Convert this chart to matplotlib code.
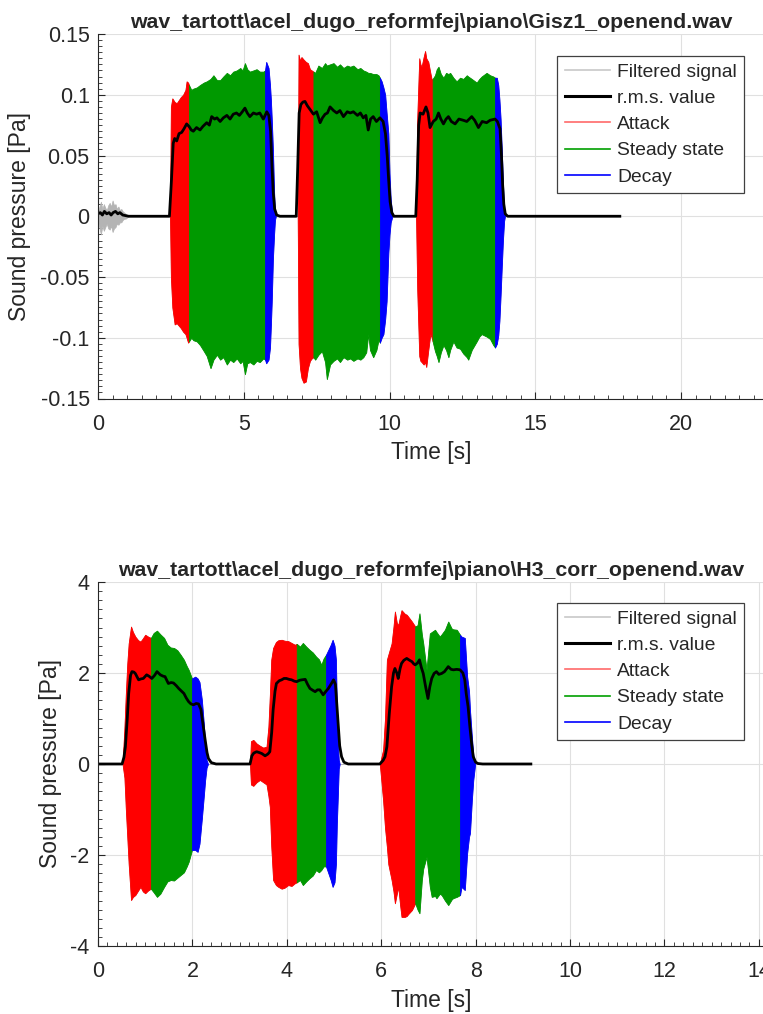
import numpy as np
import matplotlib.pyplot as plt
from matplotlib.lines import Line2D
from matplotlib.ticker import MultipleLocator

plt.rcParams['font.family'] = ['Liberation Sans', 'DejaVu Sans']
plt.rcParams['axes.unicode_minus'] = False
plt.rcParams['text.color'] = '#262626'
plt.rcParams['axes.labelcolor'] = '#262626'
plt.rcParams['xtick.color'] = '#262626'
plt.rcParams['ytick.color'] = '#262626'

# ---------------------------------------------------------------
# Gisz1_openend.wav : envelope of the filtered signal (upper / lower)
# ---------------------------------------------------------------
gisz_t = [0.0, 0.05, 0.1, 0.15, 0.2, 0.25, 0.3, 0.35, 0.4, 0.45, 0.5, 0.55, 0.6, 0.65,
          0.7, 0.75, 0.8, 0.85, 0.9, 0.95, 1.0, 1.05,
          2.47, 2.50, 2.55, 2.63, 2.70, 2.84, 2.92, 3.00, 3.04, 3.09, 3.12,
          3.20, 3.27, 3.39, 3.50, 3.63, 3.73, 3.86, 3.96, 4.08, 4.19, 4.30, 4.42, 4.53,
          4.64, 4.76, 4.88, 4.96, 5.04, 5.12, 5.21, 5.33, 5.44, 5.55, 5.67, 5.73,
          5.77, 5.85, 5.90, 5.93, 5.96, 6.00, 6.04, 6.07, 6.10,
          6.85, 6.88, 6.93, 6.98, 7.05, 7.13, 7.20, 7.27, 7.33, 7.39,
          7.45, 7.56, 7.68, 7.79, 7.85, 7.96, 8.08, 8.20, 8.30, 8.42, 8.55, 8.65, 8.76,
          8.90, 9.00, 9.10, 9.20, 9.27, 9.33, 9.44, 9.55, 9.62, 9.67,
          9.73, 9.79, 9.85, 9.90, 9.96, 10.00, 10.04, 10.10,
          10.91, 10.95, 11.02, 11.06, 11.10, 11.17, 11.22, 11.26, 11.33, 11.40, 11.45, 11.48,
          11.56, 11.62, 11.68, 11.76, 11.85, 11.94, 12.02, 12.08, 12.19, 12.30, 12.42,
          12.53, 12.65, 12.70, 12.82, 12.99, 13.08, 13.16, 13.33, 13.45, 13.56, 13.62,
          13.68, 13.73, 13.77, 13.81, 13.85, 13.89, 13.93, 13.96]
gisz_upper = [0.003, 0.008, 0.012, 0.006, 0.010, 0.007, 0.005, 0.009, 0.011, 0.008, 0.013, 0.009,
              0.010, 0.006, 0.008, 0.005, 0.006, 0.004, 0.003, 0.002, 0.001, 0.0,
              0.0, 0.090, 0.097, 0.094, 0.093, 0.098, 0.100, 0.104, 0.111, 0.110, 0.108,
              0.104, 0.105, 0.106, 0.108, 0.110, 0.111, 0.113, 0.116, 0.112, 0.112, 0.115, 0.118,
              0.116, 0.119, 0.120, 0.122, 0.120, 0.126, 0.121, 0.119, 0.120, 0.121, 0.119, 0.119,
              0.120, 0.127, 0.122, 0.108, 0.096, 0.080, 0.055, 0.020, 0.003, 0.0,
              0.0, 0.133, 0.128, 0.131, 0.129, 0.127, 0.126, 0.121, 0.120, 0.119,
              0.118, 0.124, 0.122, 0.126, 0.124, 0.125, 0.126, 0.123, 0.125, 0.122, 0.124, 0.123,
              0.124, 0.121, 0.122, 0.120, 0.119, 0.118, 0.118, 0.117, 0.117, 0.116, 0.114,
              0.111, 0.106, 0.100, 0.085, 0.068, 0.035, 0.014, 0.0,
              0.0, 0.080, 0.130, 0.125, 0.123, 0.131, 0.136, 0.130, 0.127, 0.118, 0.112, 0.113,
              0.116, 0.121, 0.123, 0.117, 0.114, 0.118, 0.117, 0.118, 0.114, 0.111, 0.114,
              0.113, 0.116, 0.115, 0.113, 0.110, 0.113, 0.115, 0.118, 0.116, 0.115, 0.114,
              0.114, 0.108, 0.096, 0.080, 0.055, 0.028, 0.005, 0.0]
gisz_lower = [-0.004, -0.010, -0.015, -0.008, -0.012, -0.009, -0.006, -0.010, -0.011, -0.008,
              -0.013, -0.010, -0.009, -0.006, -0.007, -0.005, -0.005, -0.003, -0.002, -0.002,
              -0.001, 0.0,
              0.0, -0.050, -0.075, -0.089, -0.088, -0.092, -0.095, -0.097, -0.100, -0.104, -0.103,
              -0.100, -0.102, -0.103, -0.106, -0.111, -0.115, -0.125, -0.118, -0.114, -0.118,
              -0.116, -0.122, -0.118, -0.120, -0.117, -0.121, -0.119, -0.130, -0.121, -0.120,
              -0.122, -0.119, -0.120, -0.117, -0.118,
              -0.121, -0.118, -0.108, -0.090, -0.070, -0.035, -0.015, -0.003, 0.0,
              0.0, -0.105, -0.125, -0.133, -0.137, -0.136, -0.125, -0.119, -0.117, -0.116,
              -0.118, -0.114, -0.111, -0.120, -0.134, -0.122, -0.119, -0.117, -0.120, -0.116,
              -0.118, -0.117, -0.119, -0.117, -0.118, -0.116, -0.112, -0.097, -0.110, -0.116,
              -0.110, -0.102, -0.104,
              -0.100, -0.097, -0.085, -0.070, -0.030, -0.015, -0.005, 0.0,
              0.0, -0.060, -0.115, -0.119, -0.120, -0.122, -0.120, -0.124, -0.110, -0.097,
              -0.100, -0.103,
              -0.111, -0.115, -0.120, -0.112, -0.106, -0.110, -0.116, -0.110, -0.103, -0.108,
              -0.109, -0.113, -0.116, -0.118, -0.110, -0.103, -0.099, -0.097, -0.099, -0.101,
              -0.106, -0.108,
              -0.105, -0.098, -0.086, -0.065, -0.042, -0.020, -0.004, 0.0]
gisz_attack_start = [2.47, 6.85, 10.91]
gisz_steady_start = [3.12, 7.39, 11.48]
gisz_decay_start = [5.73, 9.67, 13.62]
gisz_decay_end = [6.10, 10.10, 13.96]

gisz_rms_t = [0.0, 0.08, 0.15, 0.22, 0.3, 0.38, 0.45, 0.52, 0.6, 0.68, 0.75, 0.85, 0.95, 1.05,
              2.45, 2.52, 2.58, 2.63, 2.70, 2.78, 2.87, 2.95, 3.04, 3.12, 3.20, 3.27, 3.38,
              3.50, 3.60, 3.73, 3.82, 3.90, 4.0, 4.08, 4.19, 4.30, 4.42, 4.53, 4.64, 4.75,
              4.85, 4.95, 5.04, 5.12, 5.21, 5.33, 5.44, 5.55, 5.67, 5.79, 5.86, 5.92, 5.97,
              6.01, 6.06, 6.13, 6.24,
              6.80, 6.85, 6.90, 6.96, 7.03, 7.10, 7.18, 7.27, 7.39, 7.50, 7.62, 7.70, 7.79,
              7.87, 7.96, 8.08, 8.19, 8.30, 8.42, 8.55, 8.65, 8.76, 8.90, 9.00, 9.10, 9.19,
              9.27, 9.35, 9.44, 9.55, 9.67, 9.78, 9.86, 9.92, 9.97, 10.02, 10.08, 10.15,
              10.90, 10.95, 11.00, 11.05, 11.15, 11.25, 11.32, 11.39, 11.50, 11.60, 11.68,
              11.76, 11.85, 11.94, 12.02, 12.12, 12.25, 12.38, 12.53, 12.65, 12.82, 12.92,
              13.05, 13.18, 13.33, 13.45, 13.62, 13.70, 13.79, 13.84, 13.88, 13.92, 13.97,
              14.05, 14.25, 17.9]
gisz_rms = [0.002, 0.003, 0.001, 0.004, 0.002, 0.003, 0.001, 0.003, 0.004, 0.002, 0.003,
            0.001, 0.0005, 0.0,
            0.0, 0.030, 0.060, 0.064, 0.062, 0.068, 0.069, 0.072, 0.076, 0.074, 0.071, 0.070,
            0.073, 0.071, 0.074, 0.077, 0.075, 0.082, 0.080, 0.081, 0.078, 0.081, 0.083,
            0.080, 0.084, 0.085, 0.083, 0.086, 0.089, 0.085, 0.082, 0.085, 0.084, 0.085,
            0.080, 0.086, 0.083, 0.070, 0.040, 0.020, 0.006, 0.001, 0.0,
            0.0, 0.040, 0.085, 0.092, 0.094, 0.0945, 0.091, 0.088, 0.084, 0.086, 0.077,
            0.081, 0.084, 0.085, 0.090, 0.087, 0.085, 0.087, 0.082, 0.086, 0.085, 0.086,
            0.083, 0.085, 0.081, 0.083, 0.071, 0.080, 0.082, 0.078, 0.081, 0.078, 0.068,
            0.050, 0.030, 0.012, 0.003, 0.0,
            0.0, 0.030, 0.075, 0.085, 0.084, 0.090, 0.085, 0.073, 0.078, 0.080, 0.085,
            0.080, 0.076, 0.080, 0.082, 0.078, 0.076, 0.080, 0.079, 0.078, 0.082, 0.079,
            0.073, 0.078, 0.077, 0.079, 0.080, 0.078, 0.072, 0.050, 0.026, 0.010, 0.002,
            0.0, 0.0, 0.0]

# ---------------------------------------------------------------
# H3_corr_openend.wav
# ---------------------------------------------------------------
h3_t = [0.0, 0.52, 0.56, 0.59, 0.62, 0.65, 0.70, 0.74, 0.79, 0.85, 0.90, 0.95, 1.00, 1.06, 1.12,
        1.18, 1.25, 1.32, 1.40, 1.47, 1.54, 1.61, 1.68, 1.75, 1.82, 1.88, 1.92, 1.99,
        2.06, 2.11, 2.15, 2.20, 2.24, 2.27, 2.30, 2.33,
        3.22, 3.24, 3.29, 3.36, 3.43, 3.50, 3.57, 3.61, 3.64, 3.67, 3.71, 3.77, 3.82, 3.89,
        3.95, 4.03, 4.10, 4.17, 4.21,
        4.28, 4.34, 4.41, 4.48, 4.55, 4.62, 4.68, 4.73, 4.78, 4.83,
        4.88, 4.93, 4.97, 5.01, 5.04, 5.06, 5.08, 5.10, 5.12,
        5.97, 6.04, 6.08, 6.12, 6.15, 6.22, 6.26, 6.29, 6.33, 6.36, 6.40, 6.43, 6.50, 6.54,
        6.57, 6.65, 6.72,
        6.77, 6.81, 6.86, 6.89, 6.96, 7.03, 7.07, 7.14, 7.17, 7.24, 7.28, 7.35, 7.42, 7.49,
        7.52, 7.60, 7.67,
        7.70, 7.77, 7.82, 7.86, 7.88, 7.92, 7.95, 7.99, 9.17]
h3_upper = [0.0, 0.0, 0.8, 1.55, 2.2, 2.65, 3.02, 2.90, 2.80, 2.72, 2.69, 2.76, 2.84, 2.80, 2.77,
            2.88, 2.93, 2.85, 2.77, 2.62, 2.56, 2.55, 2.50, 2.40, 2.29, 2.15, 2.07, 1.88,
            1.92, 1.88, 1.80, 1.41, 0.90, 0.45, 0.09, 0.0,
            0.0, 0.50, 0.53, 0.45, 0.40, 0.36, 0.38, 0.82, 1.50, 2.29, 2.55, 2.68, 2.72, 2.73,
            2.71, 2.70, 2.66, 2.62, 2.64,
            2.58, 2.66, 2.58, 2.51, 2.45, 2.36, 2.30, 2.18, 2.32, 2.40,
            2.51, 2.62, 2.73, 2.60, 2.29, 1.20, 0.50, 0.09, 0.0,
            0.0, 0.31, 1.0, 2.29, 2.40, 2.65, 3.02, 3.35, 3.10, 3.05, 3.25, 3.38, 3.30, 3.28,
            3.24, 3.13, 3.02,
            3.05, 3.31, 2.85, 2.65, 2.07, 2.87, 2.90, 2.95, 2.90, 2.80, 2.85, 2.95, 3.13, 2.98,
            2.96, 2.95, 2.84,
            2.80, 2.77, 1.92, 1.60, 1.19, 0.60, 0.20, 0.0, 0.0]
h3_lower = [0.0, 0.0, -0.3, -1.0, -1.6, -2.2, -2.99, -2.92, -2.88, -2.78, -2.70, -2.80, -2.84,
            -2.78, -2.74,
            -2.82, -2.92, -2.85, -2.70, -2.58, -2.55, -2.56, -2.50, -2.44, -2.38, -2.25, -2.15,
            -1.89,
            -1.89, -1.93, -1.75, -1.20, -0.72, -0.35, -0.08, 0.0,
            0.0, -0.45, -0.48, -0.40, -0.35, -0.40, -0.45, -0.70, -0.94, -1.80, -2.55, -2.66,
            -2.70, -2.74, -2.72, -2.66, -2.68, -2.62, -2.60,
            -2.55, -2.66, -2.58, -2.51, -2.45, -2.33, -2.38, -2.33, -2.25, -2.25,
            -2.40, -2.55, -2.70, -2.60, -2.20, -1.30, -0.72, -0.10, 0.0,
            0.0, -0.80, -1.40, -1.82, -2.20, -2.55, -2.80, -3.06, -2.85, -2.70, -3.10, -3.36,
            -3.36, -3.34, -3.30, -3.21, -3.06,
            -3.20, -3.28, -2.55, -2.30, -2.04, -2.70, -2.92, -2.90, -2.95, -2.85, -2.88, -3.00,
            -3.10, -2.98, -2.95, -2.92, -2.88,
            -2.70, -2.77, -1.96, -1.60, -1.52, -0.79, -0.35, 0.0, 0.0]
h3_attack_start = [0.52, 3.22, 5.97]
h3_steady_start = [1.12, 4.21, 6.72]
h3_decay_start = [1.99, 4.83, 7.67]
h3_decay_end = [2.33, 5.12, 7.99]

h3_rms_t = [0.0, 0.51, 0.55, 0.58, 0.62, 0.65, 0.69, 0.72, 0.76, 0.79, 0.86, 0.91, 0.96, 1.03,
            1.08, 1.14, 1.20, 1.25, 1.32, 1.38, 1.42, 1.49, 1.55, 1.60, 1.66, 1.71, 1.77,
            1.82, 1.87, 1.92, 1.97, 2.02, 2.08, 2.13, 2.18, 2.22, 2.27, 2.31, 2.34, 2.40, 2.50,
            3.22, 3.26, 3.30, 3.36, 3.42, 3.47, 3.54, 3.60, 3.64, 3.68, 3.71, 3.75, 3.78,
            3.84, 3.89, 3.94, 3.99, 4.05, 4.10, 4.16, 4.21, 4.27, 4.32, 4.39, 4.44, 4.49,
            4.55, 4.60, 4.65, 4.70, 4.77, 4.83, 4.88, 4.94, 4.99, 5.03, 5.06, 5.09, 5.12,
            5.16, 5.21, 5.30,
            5.97, 6.04, 6.08, 6.12, 6.17, 6.22, 6.26, 6.29, 6.33, 6.36, 6.40, 6.43, 6.48,
            6.54, 6.60, 6.65, 6.69, 6.72, 6.77, 6.81, 6.85, 6.89, 6.94, 6.99, 7.03, 7.07,
            7.12, 7.17, 7.22, 7.28, 7.34, 7.42, 7.48, 7.53, 7.60, 7.67, 7.73, 7.77, 7.80,
            7.84, 7.88, 7.92, 7.95, 8.00, 8.05, 8.15, 9.17]
h3_rms = [0.0, 0.0, 0.15, 0.38, 1.0, 1.55, 1.95, 2.03, 2.02, 1.99, 1.85, 1.87, 1.88, 1.96,
          1.93, 1.88, 1.95, 2.03, 1.96, 1.93, 1.92, 1.77, 1.79, 1.78, 1.72, 1.66, 1.60,
          1.55, 1.45, 1.37, 1.32, 1.30, 1.33, 1.32, 1.20, 0.90, 0.53, 0.25, 0.12, 0.03, 0.0,
          0.0, 0.18, 0.24, 0.27, 0.25, 0.23, 0.18, 0.22, 0.27, 0.70, 1.19, 1.60, 1.77,
          1.83, 1.85, 1.88, 1.88, 1.86, 1.85, 1.82, 1.81, 1.84, 1.85, 1.86, 1.75, 1.66,
          1.62, 1.59, 1.63, 1.63, 1.52, 1.60, 1.66, 1.76, 1.85, 1.75, 1.30, 0.82, 0.40,
          0.16, 0.04, 0.0,
          0.0, 0.08, 0.16, 0.38, 1.10, 1.70, 2.00, 2.10, 2.00, 1.88, 2.10, 2.21, 2.28,
          2.32, 2.28, 2.25, 2.20, 2.18, 2.22, 2.29, 2.12, 1.99, 1.70, 1.44, 1.70, 1.88,
          1.99, 2.03, 1.97, 1.99, 2.03, 2.14, 2.08, 2.07, 2.08, 2.07, 2.00, 1.85, 1.55,
          1.26, 0.80, 0.40, 0.16, 0.04, 0.01, 0.0, 0.0]

col_filtered = '#b4b4b4'
col_attack = '#ff0000'
col_steady = '#009900'
col_decay = '#0000ff'


def draw_panel(ax, t, upper, lower, starts, rms_t, rms, title):
    t = np.asarray(t)
    upper = np.asarray(upper)
    lower = np.asarray(lower)
    # whole filtered signal in gray, the three phases painted over it
    ax.fill_between(t, lower, upper, color=col_filtered, lw=0.5)
    a_start, s_start, d_start, d_end = starts
    for k in range(len(a_start)):
        for lo_t, hi_t, c in [(a_start[k], s_start[k], col_attack),
                              (s_start[k], d_start[k], col_steady),
                              (d_start[k], d_end[k], col_decay)]:
            m = (t >= lo_t) & (t <= hi_t)
            ax.fill_between(t[m], lower[m], upper[m], color=c, lw=0.6)
    ax.plot(rms_t, rms, color='black', lw=2.0, solid_joinstyle='round')

    ax.set_title(title, fontsize=15.3, fontweight='bold', pad=4)
    ax.set_xlabel('Time [s]', fontsize=16.5)
    ax.set_ylabel('Sound pressure [Pa]', fontsize=16.5)
    ax.grid(True, color='#e0e0e0', lw=0.8)
    ax.set_axisbelow(True)
    for side in ['top', 'right']:
        ax.spines[side].set_visible(False)
    for side in ['left', 'bottom']:
        ax.spines[side].set_color('#262626')
        ax.spines[side].set_linewidth(0.8)
    ax.tick_params(which='both', direction='in', top=False, right=False)
    ax.tick_params(which='major', length=5, width=0.8, labelsize=15.5)
    ax.tick_params(which='minor', length=3, width=0.6)
    ax.tick_params(axis='x', which='major', pad=11)
    ax.tick_params(axis='y', which='major', pad=6)

    handles = [Line2D([], [], color='#c8c8c8', lw=1.2),
               Line2D([], [], color='black', lw=2.2),
               Line2D([], [], color='#ff6a6a', lw=1.2),
               Line2D([], [], color='#00a000', lw=1.2),
               Line2D([], [], color=col_decay, lw=1.2)]
    labels = ['Filtered signal', 'r.m.s. value', 'Attack', 'Steady state', 'Decay']
    return handles, labels


fig = plt.figure(figsize=(7.63, 10.14), dpi=100)
W, H = 763.0, 1014.0
legend_style = dict(loc='upper right', bbox_transform=fig.transFigure, borderaxespad=0,
                    fontsize=13.9, fancybox=False, framealpha=1, edgecolor='#404040',
                    handlelength=2.35, handletextpad=0.35, labelspacing=0.45, borderpad=0.38)

ax1 = fig.add_axes([98 / W, 1 - 398.5 / H, 667 / W, 364.5 / H])
h, l = draw_panel(ax1, gisz_t, gisz_upper, gisz_lower,
                  (gisz_attack_start, gisz_steady_start, gisz_decay_start, gisz_decay_end),
                  gisz_rms_t, gisz_rms,
                  r'wav_tartott\acel_dugo_reformfej\piano\Gisz1_openend.wav')
ax1.set_xlim(0, 22.88)
ax1.set_ylim(-0.15, 0.15)
ax1.set_xticks([0, 5, 10, 15, 20])
ax1.set_yticks([-0.15, -0.1, -0.05, 0, 0.05, 0.1, 0.15])
ax1.set_yticklabels(['-0.15', '-0.1', '-0.05', '0', '0.05', '0.1', '0.15'])
ax1.xaxis.set_minor_locator(MultipleLocator(0.5))
ax1.yaxis.set_minor_locator(MultipleLocator(0.005))
ax1.yaxis.set_label_coords(-0.100, 0.5)
ax1.xaxis.set_label_coords(0.5, -0.116)
leg = ax1.legend(h, l, bbox_to_anchor=(744 / W, 1 - 56 / H), **legend_style)
leg.get_frame().set_linewidth(0.9)

ax2 = fig.add_axes([98 / W, 1 - 946 / H, 667 / W, 364 / H])
h, l = draw_panel(ax2, h3_t, h3_upper, h3_lower,
                  (h3_attack_start, h3_steady_start, h3_decay_start, h3_decay_end),
                  h3_rms_t, h3_rms,
                  r'wav_tartott\acel_dugo_reformfej\piano\H3_corr_openend.wav')
ax2.set_xlim(0, 14.13)
ax2.set_ylim(-4, 4)
ax2.set_xticks([0, 2, 4, 6, 8, 10, 12, 14])
ax2.set_yticks([-4, -2, 0, 2, 4])
ax2.xaxis.set_minor_locator(MultipleLocator(0.2))
ax2.yaxis.set_minor_locator(MultipleLocator(0.2))
ax2.yaxis.set_label_coords(-0.054, 0.5)
ax2.xaxis.set_label_coords(0.5, -0.117)
leg = ax2.legend(h, l, bbox_to_anchor=(744 / W, 1 - 603 / H), **legend_style)
leg.get_frame().set_linewidth(0.9)

fig.savefig('out.png', dpi=100, facecolor='white')
